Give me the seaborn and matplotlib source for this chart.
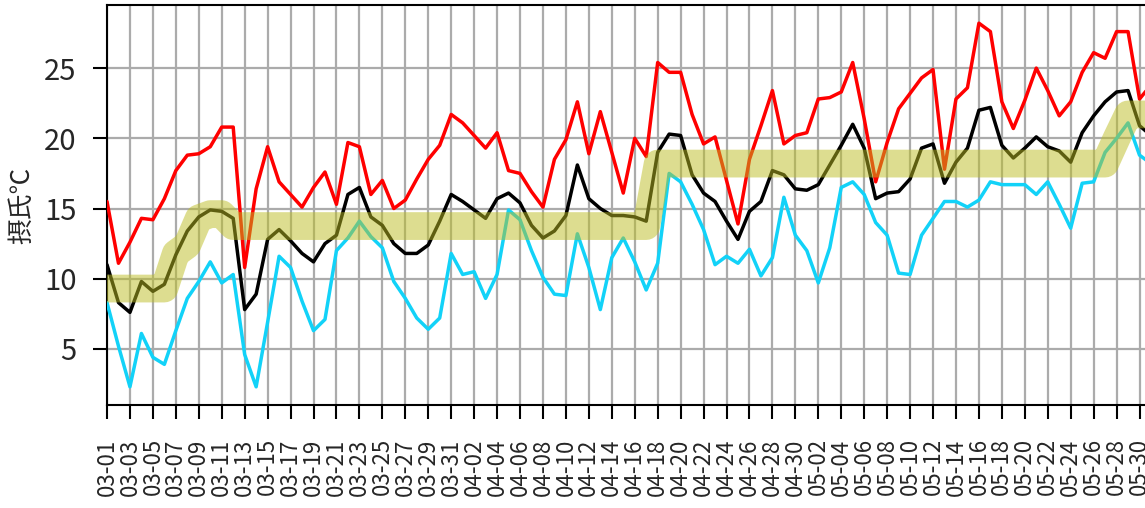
import pandas as pd
import matplotlib
matplotlib.use("Agg")
import matplotlib.pyplot as plt
import seaborn as sns

# Daily temperatures, 03-01 .. 05-31
dates = pd.date_range("2023-03-01", "2023-05-31", freq="D")

temp_max = [15.5, 11.1, 12.6, 14.3, 14.2, 15.7, 17.7, 18.8, 18.9, 19.4,
            20.8, 20.8, 10.8, 16.4, 19.4, 16.9, 16.0, 15.1, 16.5, 17.6,
            15.3, 19.7, 19.4, 16.0, 17.0, 15.0, 15.6, 17.1, 18.5, 19.5,
            21.7, 21.1, 20.2, 19.3, 20.4, 17.7, 17.5, 16.2, 15.1, 18.5,
            19.9, 22.6, 18.9, 21.9, 19.0, 16.1, 20.0, 18.7, 25.4, 24.7,
            24.7, 21.7, 19.6, 20.1, 17.0, 13.9, 18.5, 20.9, 23.4, 19.6,
            20.2, 20.4, 22.8, 22.9, 23.3, 25.4, 21.4, 16.9, 19.7, 22.1,
            23.2, 24.3, 24.9, 17.8, 22.8, 23.6, 28.2, 27.6, 22.6, 20.7,
            22.7, 25.0, 23.4, 21.6, 22.6, 24.7, 26.1, 25.7, 27.6, 27.6,
            22.8, 23.8]

temp_mean = [11.0, 8.3, 7.6, 9.8, 9.1, 9.6, 11.7, 13.4, 14.4, 14.9,
             14.8, 14.3, 7.8, 8.9, 12.8, 13.5, 12.7, 11.8, 11.2, 12.5,
             13.1, 16.0, 16.5, 14.4, 13.8, 12.5, 11.8, 11.8, 12.4, 14.1,
             16.0, 15.5, 14.9, 14.3, 15.7, 16.1, 15.4, 13.8, 12.9, 13.4,
             14.5, 18.1, 15.7, 15.0, 14.5, 14.5, 14.4, 14.1, 19.0, 20.3,
             20.2, 17.4, 16.1, 15.5, 14.1, 12.8, 14.8, 15.5, 17.7, 17.4,
             16.4, 16.3, 16.7, 18.1, 19.5, 21.0, 19.3, 15.7, 16.1, 16.2,
             17.1, 19.3, 19.6, 16.8, 18.3, 19.3, 22.0, 22.2, 19.5, 18.6,
             19.3, 20.1, 19.4, 19.1, 18.3, 20.4, 21.6, 22.6, 23.3, 23.4,
             20.9, 20.2]

temp_min = [8.3, 5.2, 2.3, 6.1, 4.4, 3.9, 6.3, 8.6, 9.8, 11.2,
            9.7, 10.3, 4.6, 2.3, 6.9, 11.6, 10.8, 8.4, 6.3, 7.1,
            12.0, 12.9, 14.1, 13.0, 12.2, 9.8, 8.6, 7.2, 6.4, 7.2,
            11.8, 10.3, 10.5, 8.6, 10.3, 14.9, 14.2, 12.0, 10.1, 8.9,
            8.8, 13.2, 10.8, 7.8, 11.5, 12.9, 11.2, 9.2, 11.1, 17.5,
            16.9, 15.3, 13.5, 11.0, 11.6, 11.1, 12.1, 10.2, 11.5, 15.8,
            13.1, 12.0, 9.7, 12.2, 16.5, 16.9, 16.0, 14.0, 13.1, 10.4,
            10.3, 13.1, 14.3, 15.5, 15.5, 15.1, 15.6, 16.9, 16.7, 16.7,
            16.7, 16.0, 16.9, 15.3, 13.6, 16.8, 16.9, 19.0, 20.0, 21.1,
            18.8, 18.2]

temp_normal = [9.3, 9.3, 9.3, 9.3, 9.3, 9.3, 11.8, 12.4, 14.3, 14.6,
               14.6, 13.75, 13.75, 13.75, 13.75, 13.75, 13.75, 13.75, 13.75, 13.75,
               13.75, 13.75, 13.75, 13.75, 13.75, 13.75, 13.75, 13.75, 13.75, 13.75,
               13.75, 13.75, 13.75, 13.75, 13.75, 13.75, 13.75, 13.75, 13.75, 13.75,
               13.75, 13.75, 13.75, 13.75, 13.75, 13.75, 13.75, 13.75, 18.2, 18.2,
               18.2, 18.2, 18.2, 18.2, 18.2, 18.2, 18.2, 18.2, 18.2, 18.2,
               18.2, 18.2, 18.2, 18.2, 18.2, 18.2, 18.2, 18.2, 18.2, 18.2,
               18.2, 18.2, 18.2, 18.2, 18.2, 18.2, 18.2, 18.2, 18.2, 18.2,
               18.2, 18.2, 18.2, 18.2, 18.2, 18.2, 18.2, 18.2, 20.0, 21.7,
               21.7, 21.7]

df = pd.DataFrame({"date": dates, "max": temp_max, "mean": temp_mean,
                   "min": temp_min, "normal": temp_normal})

sns.set_theme(style="ticks")
plt.rcParams['font.family'] = ['Noto Sans CJK JP', 'DejaVu Sans']

fig = plt.figure(figsize=(11.45, 5.08), dpi=100)
ax = fig.add_axes([107 / 1145, 103 / 508, 1044 / 1145, 400 / 508])

sns.lineplot(data=df, x="date", y="max", color="#ff0000", lw=2.5, ax=ax, zorder=3)
sns.lineplot(data=df, x="date", y="min", color="#12d2f8", lw=2.5, ax=ax, zorder=3)
sns.lineplot(data=df, x="date", y="mean", color="black", lw=2.5, ax=ax, zorder=3)
# thick translucent band drawn over the daily lines
sns.lineplot(data=df, x="date", y="normal", color="#bcbd22", alpha=0.5, lw=20,
             ax=ax, zorder=4)

ax.set_xlim(dates[0], dates[-1])
tick_days = dates[::2]
ax.set_xticks(tick_days)
ax.set_xticklabels([d.strftime("%m-%d") for d in tick_days], rotation=90)
ax.set_yticks([5, 10, 15, 20, 25])

ax.grid(True, color="#ababab", lw=1.6)
ax.set_axisbelow(True)
for side in ["left", "bottom", "top", "right"]:
    ax.spines[side].set_color("black")
    ax.spines[side].set_linewidth(1.5)

ax.tick_params(axis="both", length=10, width=1.5, color="black")
ax.tick_params(axis="y", labelsize=21, pad=12)
ax.tick_params(axis="x", labelsize=16, pad=14)

ax.set_xlabel("")
ax.set_ylabel("摂氏℃", fontsize=18.5)
ax.yaxis.set_label_coords(-0.069, 0.5)

fig.savefig("out.png", dpi=100)
